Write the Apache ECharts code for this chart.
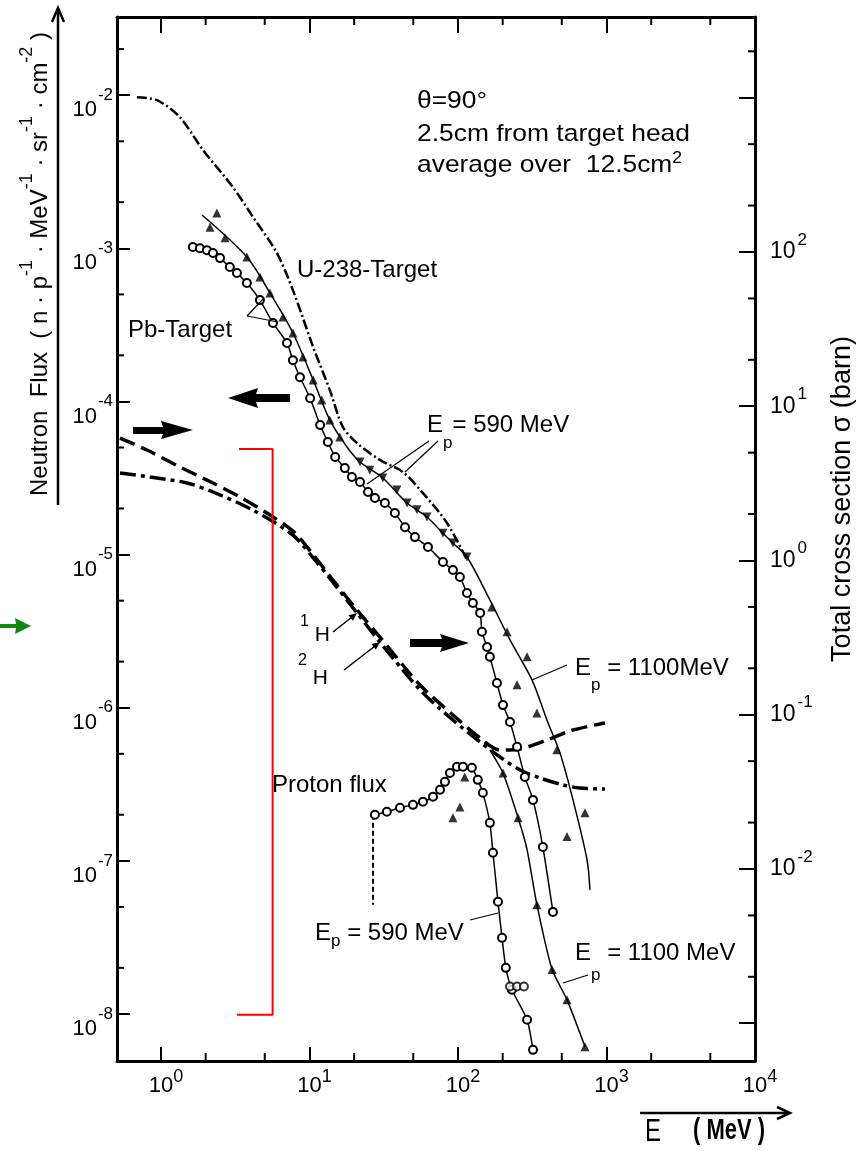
<!DOCTYPE html>
<html>
<head>
<meta charset="utf-8">
<title>Neutron flux spectra</title>
<script src="https://cdn.jsdelivr.net/npm/echarts@6/dist/echarts.min.js"></script>
<style>
html, body { margin: 0; padding: 0; background: #fff; }
#chartData { width: 861px; height: 1151px; }
</style>
</head>
<body>
<div id="chartData"></div>
<script>
// axis ranges (E in MeV, flux left, cross section right)
var xMin = 0.506, xMax = 10000;
var yMin = 4.93e-9, yMax = 0.0324;
var y2Min = 5.69e-4, y2Max = 3338;

var xMinorTicks = [2, 5, 20, 50, 200, 500, 2000, 5000];
var yMinorTicks = [2e-8, 5e-8, 2e-7, 5e-7, 2e-6, 5e-6, 2e-5, 5e-5, 2e-4, 5e-4, 2e-3, 5e-3, 2e-2];
var y2MinorTicks = [2e-3, 5e-3, 2e-2, 5e-2, 0.2, 0.5, 2, 5, 20, 50, 200, 500, 2000];

// U-238 target
var u238 = [[0.689, 9.70e-3], [0.940, 9.27e-3], [1.34, 7.18e-3], [1.92, 4.38e-3], [3.05, 2.51e-3],
    [4.17, 1.60e-3], [6.04, 9.31e-4], [7.74, 5.33e-4], [10.6, 2.26e-4], [13.7, 1.19e-4], [16.8, 6.80e-5],
    [20.9, 5.35e-5], [29.8, 4.15e-5], [42.6, 3.46e-5], [58.1, 2.52e-5], [84.3, 1.61e-5], [115, 9.22e-6]];

// Pb target, Ep = 590 MeV (circles)
var pb590 = [[1.64, 1.02e-3], [1.83, 1.00e-3], [2.04, 9.73e-4], [2.24, 9.31e-4], [2.50, 8.63e-4],
    [2.91, 7.54e-4], [3.25, 6.89e-4], [3.79, 5.93e-4], [4.64, 4.59e-4], [5.68, 3.25e-4], [7.06, 2.41e-4],
    [7.74, 1.86e-4], [8.63, 1.44e-4], [10.1, 1.05e-4], [11.8, 7.01e-5], [13.3, 5.43e-5], [14.9, 4.34e-5],
    [17.3, 3.67e-5], [19.3, 3.21e-5], [21.9, 2.98e-5], [24.8, 2.56e-5], [27.6, 2.34e-5], [32.2, 2.17e-5],
    [37.6, 1.87e-5], [44.0, 1.51e-5], [51.3, 1.30e-5], [62.8, 1.12e-5], [79.2, 8.95e-6], [92.5, 7.93e-6],
    [103, 7.14e-6], [115, 5.61e-6], [126, 4.83e-6], [141, 4.16e-6], [145, 3.13e-6], [157, 2.49e-6],
    [164, 2.15e-6], [183, 1.45e-6], [201, 1.04e-6], [224, 8.07e-7], [250, 5.55e-7], [282, 3.53e-7],
    [320, 2.50e-7], [373, 1.23e-7], [436, 4.64e-8]];

// Pb target, Ep = 1100 MeV (line and triangles)
var pb1100Line = [[1.89, 1.65e-3], [3.79, 8.77e-4], [5.42, 5.11e-4], [7.74, 2.80e-4], [10.6, 1.38e-4],
    [13.7, 7.57e-5], [17.9, 5.04e-5], [21.9, 4.02e-5], [31.2, 3.16e-5], [45.4, 2.17e-5], [61.8, 1.76e-5],
    [79.2, 1.38e-5], [92.5, 1.19e-5], [115, 9.64e-6], [164, 5.06e-6], [224, 2.77e-6], [315, 1.52e-6],
    [397, 8.32e-7], [486, 5.07e-7], [595, 2.50e-7], [739, 1.02e-7], [774, 6.47e-8]];
var pb1100Up = [[2.38, 1.70e-3], [2.14, 1.37e-3], [2.70, 1.17e-3], [3.79, 8.77e-4], [4.64, 6.49e-4],
    [5.42, 5.11e-4], [6.63, 3.56e-4], [7.74, 2.80e-4], [9.04, 1.95e-4], [10.6, 1.38e-4], [12.1, 1.02e-4],
    [13.7, 7.57e-5], [16.0, 5.86e-5]];
var pb1100Down = [[21.9, 4.02e-5], [25.5, 3.56e-5], [31.2, 3.16e-5], [38.8, 2.64e-5], [45.4, 2.17e-5],
    [53.0, 1.96e-5], [61.8, 1.76e-5], [79.2, 1.38e-5], [92.5, 1.19e-5], [115, 9.64e-6]];
var pb1100Tail = [[169, 4.55e-6], [214, 3.13e-6], [292, 2.15e-6], [250, 1.41e-6], [340, 9.25e-7],
    [464, 5.31e-7], [542, 1.44e-7], [717, 2.06e-7]];

// proton flux, Ep = 590 MeV (circles)
var proton590 = [[27.6, 2.00e-7], [33.2, 2.09e-7], [40.7, 2.22e-7], [49.8, 2.32e-7], [58.1, 2.43e-7],
    [67.9, 2.62e-7], [75.7, 2.91e-7], [81.7, 3.28e-7], [88.3, 3.75e-7], [98.4, 4.11e-7], [108, 4.11e-7],
    [124, 4.05e-7], [136, 3.38e-7], [147, 2.78e-7], [164, 1.77e-7], [172, 1.13e-7], [186, 5.40e-8],
    [198, 3.14e-8], [210, 2.00e-8], [231, 1.44e-8], [292, 9.16e-9], [320, 5.83e-9]];
var proton590Cut = [[26.8, 2.00e-7], [26.8, 5.17e-8]];
var proton590Extra = [[224, 1.51e-8], [250, 1.51e-8], [278, 1.51e-8]];

// proton flux, Ep = 1100 MeV (triangles)
var proton1100 = [[164, 5.31e-7], [201, 3.75e-7], [254, 1.91e-7], [292, 1.18e-7], [340, 5.17e-8],
    [430, 1.95e-8], [542, 1.24e-8], [717, 6.11e-9]];
var proton1100Marks = [[92.5, 1.91e-7], [103, 2.25e-7], [111, 3.53e-7], [201, 3.75e-7], [254, 1.91e-7],
    [340, 5.17e-8], [430, 1.95e-8], [542, 1.24e-8], [717, 6.11e-9]];

// total cross sections (barn), right axis
var sigmaH1 = [[0.530, 6.22], [0.805, 5.20], [1.34, 4.04], [2.24, 3.18], [3.40, 2.58], [5.17, 2.03],
    [7.74, 1.55], [10.6, 1.09], [14.9, 0.715], [20.9, 0.478], [29.8, 0.319], [55.5, 0.156], [92.5, 0.0996],
    [141, 0.0706], [192, 0.059], [262, 0.060], [397, 0.0685], [568, 0.0785], [837, 0.0859], [977, 0.0885]];
var sigmaH2 = [[0.530, 3.69], [0.843, 3.48], [1.50, 3.18], [2.24, 2.78], [4.17, 2.12], [7.74, 1.46],
    [10.6, 1.04], [14.9, 0.693], [20.9, 0.457], [29.8, 0.296], [55.5, 0.145], [92.5, 0.0924], [141, 0.0665],
    [192, 0.0532], [262, 0.0438], [357, 0.0389], [509, 0.0351], [663, 0.0335], [977, 0.0330]];

// red bracket
var bracket = [[3.35, 4.89e-5], [5.65, 4.89e-5], [5.65, 9.88e-9], [3.25, 9.88e-9]];

var FONT = "'Liberation Sans', Arial, Helvetica, sans-serif";

var expLabel = function (value) {
    var e = Math.log10(value);
    var r = Math.round(e);
    if (Math.abs(e - r) > 0.01) return '';
    return '{b|10}{s|' + r + '}';
};
var expLabelRight = function (value) {
    var e = Math.log10(value);
    var r = Math.round(e);
    if (Math.abs(e - r) > 0.01 || Math.abs(r) > 2) return '';
    return '{b|10}{s|' + r + '}';
};

var tickMarks = function (list, xi, yi, kind) {
    return {
        type: 'custom', xAxisIndex: xi, yAxisIndex: yi, silent: true, clip: false, z: 10,
        data: list.map(function (v) {
            return kind === 'x' ? [v, yMin] : (kind === 'yl' ? [xMin, v] : [xMax, v]);
        }),
        renderItem: function (params, api) {
            var st = { stroke: '#000', lineWidth: 2 };
            if (kind === 'x') {
                var b = api.coord([api.value(0), yMin]);
                var t = api.coord([api.value(0), yMax]);
                return { type: 'group', children: [
                    { type: 'line', shape: { x1: b[0], y1: b[1], x2: b[0], y2: b[1] - 8 }, style: st },
                    { type: 'line', shape: { x1: t[0], y1: t[1], x2: t[0], y2: t[1] + 8 }, style: st }
                ] };
            }
            var p = api.coord([api.value(0), api.value(1)]);
            var d = kind === 'yl' ? 7 : -7;
            return { type: 'line', shape: { x1: p[0], y1: p[1], x2: p[0] + d, y2: p[1] }, style: st };
        }
    };
};

var text = function (x, y, str, size, extra, el) {
    var st = { text: str, fontSize: size, fontFamily: FONT, fill: '#000', align: 'left', verticalAlign: 'top',
        textAlign: 'left', textVerticalAlign: 'top' };
    for (var k in extra) st[k] = extra[k];
    var g = { type: 'text', x: x, y: y, z: 20, style: st };
    for (var j in el) g[j] = el[j];
    return g;
};
var line = function (pts, w, color) {
    return { type: 'polyline', z: 20, shape: { points: pts }, style: { stroke: color || '#000', lineWidth: w || 1.2, fill: null } };
};
var poly = function (pts, color) {
    return { type: 'polygon', z: 20, shape: { points: pts }, style: { fill: color || '#000' } };
};
var epRich = function (q) {
    return { a: { fontSize: 24, lineHeight: 24, verticalAlign: 'top', fontFamily: FONT },
             p: { fontSize: 17, lineHeight: 17, verticalAlign: 'top', padding: [q, 0, 0, 0], fontFamily: FONT } };
};
var hRich = function (q) {
    return { s: { fontSize: 16, lineHeight: 16, verticalAlign: 'top', fontFamily: FONT },
             h: { fontSize: 21, lineHeight: 21, verticalAlign: 'top', padding: [q, 0, 0, 0], fontFamily: FONT } };
};

var myChart = echarts.init(document.getElementById('chartData'), null, { renderer: 'canvas' });

var axisLineStyle = { color: '#000', width: 3 };
var option = {
    animation: false,
    backgroundColor: '#ffffff',
    textStyle: { fontFamily: FONT },
    grid: { left: 117, right: 106, top: 17, bottom: 90, containLabel: false },
    xAxis: [{
        type: 'log', logBase: 10, min: xMin, max: xMax, position: 'bottom',
        axisLine: { show: true, lineStyle: axisLineStyle },
        axisTick: { show: true, inside: true, length: 14, lineStyle: { color: '#000', width: 2 } },
        axisLabel: {
            show: true, margin: 14, showMinLabel: false, showMaxLabel: true, formatter: expLabel, color: '#000',
            rich: {
                b: { fontSize: 22, lineHeight: 22, padding: [0, 0, 0, 10], fontFamily: FONT, color: '#000' },
                s: { fontSize: 18, lineHeight: 18, padding: [0, 0, 18, 0], fontFamily: FONT, color: '#000' }
            }
        },
        splitLine: { show: false }
    }, {
        type: 'log', logBase: 10, min: xMin, max: xMax, position: 'top',
        axisLine: { show: true, lineStyle: axisLineStyle },
        axisTick: { show: true, inside: true, length: 16, lineStyle: { color: '#000', width: 2 } },
        axisLabel: { show: false },
        splitLine: { show: false }
    }],
    yAxis: [{
        type: 'log', logBase: 10, min: yMin, max: yMax, position: 'left',
        axisLine: { show: true, lineStyle: axisLineStyle },
        axisTick: { show: true, inside: true, length: 13, lineStyle: { color: '#000', width: 2 } },
        axisLabel: {
            show: true, margin: 4, showMinLabel: false, showMaxLabel: false, formatter: expLabel, color: '#000',
            rich: {
                b: { fontSize: 22, lineHeight: 22, padding: [30, 0, 0, 0], fontFamily: FONT, color: '#000' },
                s: { fontSize: 17, lineHeight: 17, padding: [0, 0, 0, 1], fontFamily: FONT, color: '#000' }
            }
        },
        splitLine: { show: false }
    }, {
        type: 'log', logBase: 10, min: y2Min, max: y2Max, position: 'right',
        axisLine: { show: true, lineStyle: axisLineStyle },
        axisTick: { show: true, inside: true, length: 16, lineStyle: { color: '#000', width: 2 } },
        axisLabel: {
            show: true, margin: 15, showMinLabel: false, showMaxLabel: false, formatter: expLabelRight, color: '#000',
            rich: {
                b: { fontSize: 23, lineHeight: 23, fontFamily: FONT, color: '#000' },
                s: { fontSize: 17, lineHeight: 17, padding: [0, 0, 24, 2], fontFamily: FONT, color: '#000' }
            }
        },
        splitLine: { show: false }
    }],
    graphic: [
        text(417, 89, 'θ=90°', 24, {}, { scaleX: 1.1 }),
        text(417, 122, '2.5cm from target head', 24, {}, { scaleX: 1.1 }),
        text(417, 151, '{a|average over  12.5cm}{s|2}', 24, { rich: {
            a: { fontSize: 24, lineHeight: 24, padding: [4, 0, 0, 0], fontFamily: FONT },
            s: { fontSize: 16, lineHeight: 16, verticalAlign: 'top', fontFamily: FONT } } }, { scaleX: 1.1 }),
        text(297, 258, 'U-238-Target', 24),
        text(128, 318, 'Pb-Target', 24),
        text(272, 773, 'Proton flux', 24),
        text(427, 413, '{a|E}{p|p}{a|= 590 MeV}', 24, { rich: epRich(21.5) }),
        text(575, 656, '{a|E}{p|p}{a| = 1100MeV}', 24, { rich: epRich(20.5) }),
        text(315, 921, '{a|E}{p|p}{a| = 590 MeV}', 24, { rich: epRich(11.5) }),
        text(575, 941, '{a|E}{p|p}{a| = 1100 MeV}', 24, { rich: epRich(25.5) }),
        text(300, 614, '{s|1}{h| H}', 21, { rich: hRich(10.5) }),
        text(298, 653, '{s|2}{h| H}', 21, { rich: hRich(14.5) }),
        // leader lines
        line([[247, 316], [263, 299]]),
        line([[247, 316], [278, 322]]),
        line([[429, 441], [367, 484]]),
        line([[438, 441], [405, 472]]),
        line([[567, 665], [532, 680]]),
        line([[470, 920], [498, 913]]),
        line([[588, 975], [563, 983]]),
        line([[333, 632], [352, 617]], 1.5),
        poly([[357, 613], [352.9, 620.7], [348.5, 615.3]]),
        line([[344, 670], [375, 646]], 1.5),
        poly([[380, 642], [375.8, 649.7], [371.5, 644.1]]),
        // bold arrows showing which axis is used
        poly([[228, 398], [258, 388], [256, 394], [290, 394], [290, 402], [256, 402], [258, 408]]),
        poly([[133, 427], [163, 427], [161, 421], [193, 430], [161, 439], [163, 434], [133, 434]]),
        poly([[410, 639], [442, 639], [440, 634], [469, 643], [440, 652], [442, 647], [410, 647]]),
        poly([[0, 624], [16, 624], [15, 618], [31, 626], [15, 634], [16, 628], [0, 628]], '#118811'),
        // axis titles
        {
            type: 'text', x: 30.5, y: 264, rotation: Math.PI / 2, z: 20,
            style: {
                text: '{t|Neutron  Flux  ( n · p}{s|-1}{t| · MeV}{s|-1}{t| · sr}{s|-1}{t| · cm}{s|-2}{t| )}',
                align: 'center', verticalAlign: 'middle', textAlign: 'center', textVerticalAlign: 'middle', fill: '#000',
                rich: {
                    t: { fontSize: 24, lineHeight: 24, padding: [19, 0, 0, 0], fontFamily: FONT },
                    s: { fontSize: 18, lineHeight: 18, verticalAlign: 'top', fontFamily: FONT }
                }
            }
        },
        line([[58, 505], [58, 9]], 2.5),
        line([[52, 22], [58, 8], [64, 22]], 2.5),
        {
            type: 'text', x: 843, y: 499, rotation: Math.PI / 2, z: 20,
            style: { text: 'Total cross section σ (barn)', fontSize: 27, fontFamily: FONT, fill: '#000',
                align: 'center', verticalAlign: 'middle', textAlign: 'center', textVerticalAlign: 'middle' }
        },
        text(645, 1117, 'E', 24, {}, { scaleY: 1.3 }),
        text(693, 1117, '( MeV )', 22, { fontWeight: 'bold' }, { scaleY: 1.3 }),
        line([[640, 1113], [789, 1113]], 2.5),
        line([[777, 1107], [790, 1113], [777, 1119]], 2.5)
    ],
    series: [
        tickMarks(xMinorTicks, 0, 0, 'x'),
        tickMarks(yMinorTicks, 0, 0, 'yl'),
        tickMarks(y2MinorTicks, 0, 1, 'yr'),
        {
            name: 'U-238-Target', type: 'line', data: u238, showSymbol: false, smooth: 0.3, z: 3,
            lineStyle: { color: '#000', width: 2.5, type: [10, 3, 2, 3] }
        },
        {
            name: 'Pb 590 MeV', type: 'line', data: pb590, smooth: 0.2, z: 4,
            symbol: 'emptyCircle', symbolSize: 8,
            itemStyle: { color: '#000', borderWidth: 2 },
            lineStyle: { color: '#000', width: 1.5 }
        },
        {
            name: 'Pb 1100 MeV', type: 'line', data: pb1100Line, showSymbol: false, smooth: 0.3, z: 3,
            lineStyle: { color: '#000', width: 1.5 }
        },
        {
            name: 'Pb 1100 MeV pts', type: 'scatter', data: pb1100Up.concat(pb1100Tail), symbol: 'triangle',
            symbolSize: 9, itemStyle: { color: '#000' }, z: 5
        },
        {
            name: 'Pb 1100 MeV pts2', type: 'scatter', data: pb1100Down, symbol: 'triangle', symbolRotate: 180,
            symbolSize: 9, itemStyle: { color: '#000' }, z: 5
        },
        {
            name: 'Proton 590', type: 'line', data: proton590, smooth: 0.2, z: 4,
            symbol: 'emptyCircle', symbolSize: 8,
            itemStyle: { color: '#000', borderWidth: 2 },
            lineStyle: { color: '#000', width: 1.5 }
        },
        {
            name: 'Proton 590 cut', type: 'line', data: proton590Cut, showSymbol: false, z: 3,
            lineStyle: { color: '#000', width: 2, type: [5, 3] }
        },
        {
            name: 'Proton 590 pts', type: 'scatter', data: proton590Extra, symbol: 'emptyCircle', symbolSize: 8,
            itemStyle: { color: '#000', borderWidth: 2 }, z: 5
        },
        {
            name: 'Proton 1100', type: 'line', data: proton1100, showSymbol: false, smooth: 0.2, z: 3,
            lineStyle: { color: '#000', width: 1.5 }
        },
        {
            name: 'Proton 1100 pts', type: 'scatter', data: proton1100Marks, symbol: 'triangle', symbolSize: 9,
            itemStyle: { color: '#000' }, z: 5
        },
        {
            name: '1H', type: 'line', yAxisIndex: 1, data: sigmaH1, showSymbol: false, smooth: 0.3, z: 3,
            lineStyle: { color: '#000', width: 3.5, type: [16, 7] }
        },
        {
            name: '2H', type: 'line', yAxisIndex: 1, data: sigmaH2, showSymbol: false, smooth: 0.3, z: 3,
            lineStyle: { color: '#000', width: 3.5, type: [16, 5, 4, 5] }
        },
        {
            name: 'bracket', type: 'line', data: bracket, showSymbol: false, z: 6,
            lineStyle: { color: '#ff0000', width: 2 }
        }
    ]
};

myChart.setOption(option);
</script>
</body>
</html>
